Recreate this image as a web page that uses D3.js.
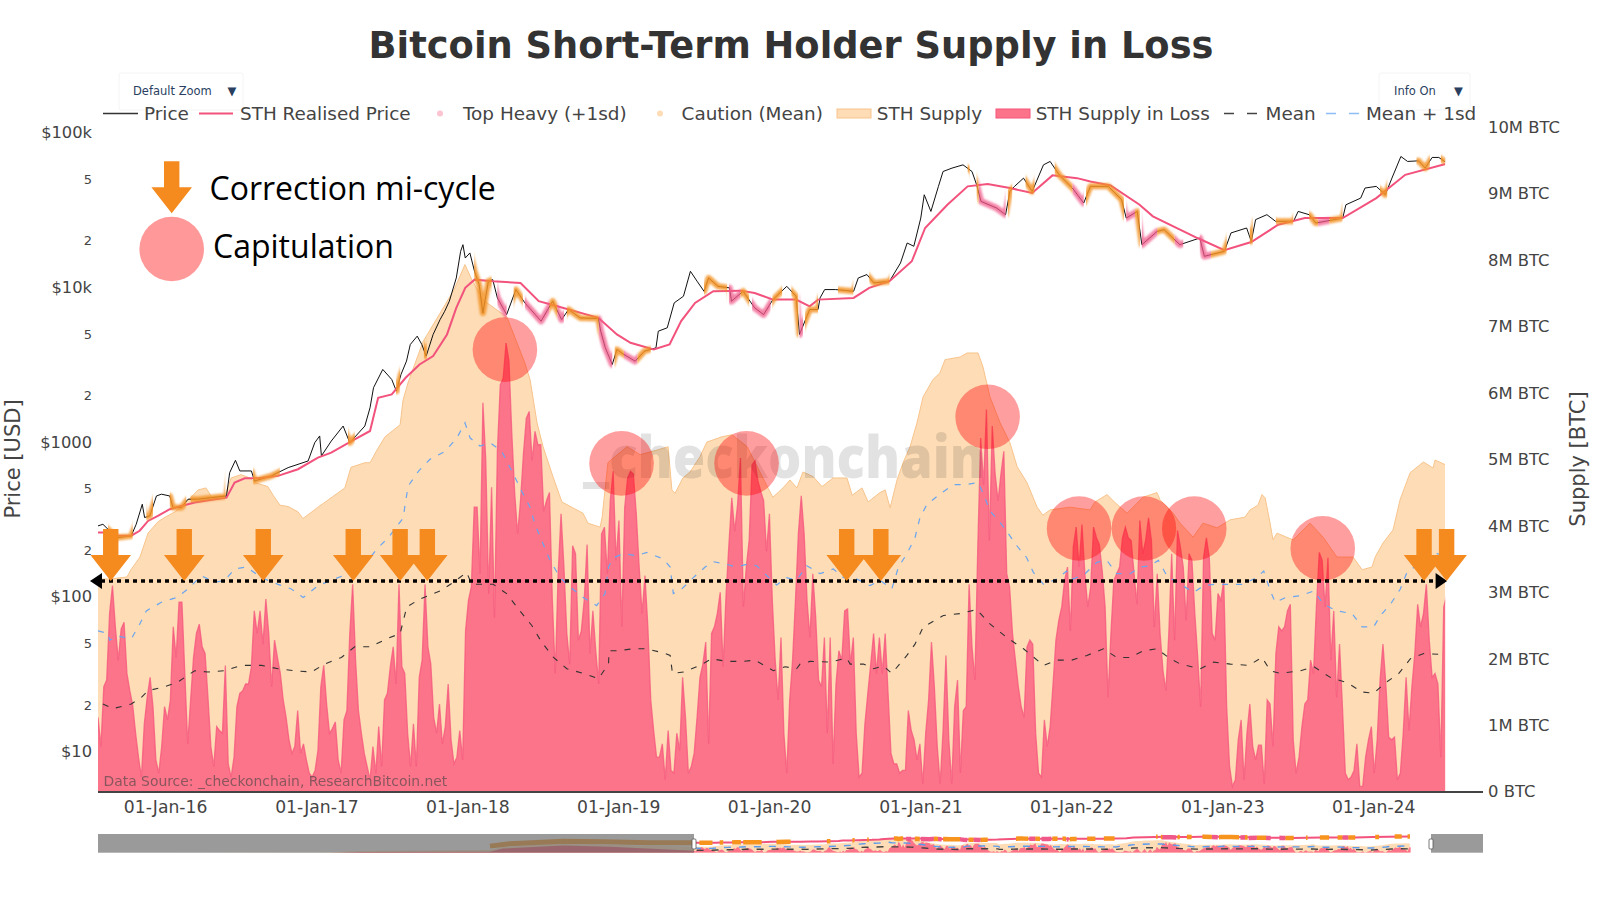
<!DOCTYPE html>
<html><head><meta charset="utf-8">
<script src="https://cdn.jsdelivr.net/npm/d3@7/dist/d3.min.js"></script>
<style>html,body{margin:0;background:#fff}svg{display:block}text{font-family:"DejaVu Sans",sans-serif}</style>
</head><body><svg id="c" width="1600" height="900"></svg>
<script>
// ---------- DATA ----------
const startDate = "2015-07-19";            // first weekly sample
const titleText = "Bitcoin Short-Term Holder Supply in Loss";
const xTickDates = ["2016-01-01","2017-01-01","2018-01-01","2019-01-01","2020-01-01","2021-01-01","2022-01-01","2023-01-01","2024-01-01"];
const priceTicks = [100000,50000,20000,10000,5000,2000,1000,500,200,100,50,20,10];
const priceTickLabels = ["$100k","5","2","$10k","5","2","$1000","5","2","$100","5","2","$10"];
const supplyTicks = [0,1,2,3,4,5,6,7,8,9,10];
const supplyTickLabels = ["0 BTC","1M BTC","2M BTC","3M BTC","4M BTC","5M BTC","6M BTC","7M BTC","8M BTC","9M BTC","10M BTC"];

// STH supply in loss, millions of BTC, one value per week
const lossValues = [
1.12,.68,1.58,1.68,2.68,3.10,2.48,1.98,2.45,2.55,1.78,1.52,1.30,.88,.52,.22,1.02,1.42,1.72,1.28,.48,.28,.68,1.28,1.08,1.38,2.48,2.02,2.85,2.85,1.78,.72,1.38,2.02,2.38,2.52,2.18,2.08,1.42,.68,.38,.98,.92,.88,1.9,.42,.22,.52,1.28,1.48,1.52,1.62,1.62,1.88,2.72,2.38,2.72,2.22,2.9,2.38,1.58,2.28,2.02,1.78,1.38,1.12,.78,.58,.68,1.22,.58,.72,.48,.28,.22,.32,.62,1.58,1.9,1.32,.88,.95,1.05,.48,.28,1.08,1.22,2.38,3.12,1.98,1.22,.88,.58,.38,
.18,.68,.28,.98,.38,1.38,1.48,1.88,2.18,1.62,3.12,1.88,1.78,.88,.38,1.02,.38,1.72,1.98,3.12,2.18,1.92,1.12,.88,1.32,.72,.98,1.62,.78,.42,.52,.92,.48,2.42,2.88,3.08,4.28,4.28,3.28,5.85,4.98,2.98,4.58,2.62,5.12,6.12,6.22,6.75,6.48,5.38,4.48,3.88,4.38,5.08,5.62,5.72,4.98,5.42,5.22,5.22,4.22,4.38,4.5,2.88,1.78,3.28,4.18,3.38,2.38,1.92,3.7,3.58,2.28,2.42,2.88,3.72,2.08,2.72,2.12,1.62,3.88,3.98,3.28,4.38,4.82,3.48,4.08,2.48,4.28,4.72,4.82,4.78,4.18,3.38,
2.68,3.25,2.48,1.38,.92,.52,.52,.72,.18,.92,.32,.28,.88,.62,1.72,1.12,.28,.38,.58,1.12,1.72,1.92,2.25,.72,2.38,2.48,2.68,3.0,1.88,2.95,3.72,4.42,3.92,4.32,5.02,2.78,3.38,3.78,4.92,4.98,4.68,4.52,4.38,3.62,4.18,2.88,1.98,1.38,2.32,.88,.28,1.38,1.98,2.88,3.88,4.45,3.88,2.88,2.32,3.28,2.62,1.68,1.58,2.32,.88,2.32,.42,1.62,2.12,1.98,2.72,2.75,1.92,2.32,.88,.22,.28,1.02,1.48,1.92,2.38,1.78,2.32,1.78,2.38,1.48,.58,.42,.42,.28,.32,.32,1.22,.92,
.78,.48,.72,.12,.88,1.38,2.25,1.58,.68,.12,.92,2.05,.78,.12,1.28,1.68,.28,1.22,1.28,3.12,2.18,1.68,3.68,5.32,4.62,5.75,3.78,5.5,4.78,4.38,4.78,5.12,3.28,3.08,2.38,1.98,1.58,1.28,1.12,2.18,2.28,2.22,.88,.28,.22,1.08,.68,.98,1.62,2.28,2.58,2.78,3.18,3.38,2.42,3.68,3.98,3.38,4.02,3.28,2.78,3.08,3.98,3.82,3.72,3.32,2.78,1.42,2.38,3.18,3.28,3.38,3.82,3.98,3.82,3.78,3.28,2.82,4.08,3.58,3.78,4.12,3.78,2.48,3.28,2.38,1.82,1.52,2.38,3.58,2.28,3.93,3.68,
3.38,2.58,3.58,3.48,2.68,2.02,1.28,3.52,3.82,3.52,2.38,2.28,2.98,2.88,3.18,1.28,.38,.08,.18,.78,1.08,.18,.88,1.32,.68,.48,.7,.7,.12,1.38,1.32,.68,2.08,2.48,2.42,2.48,2.72,2.82,.78,.28,.52,.98,1.32,1.38,1.98,1.78,2.78,3.6,3.48,2.78,3.52,1.98,2.72,1.42,2.22,1.28,.28,.18,.22,.32,.72,.08,.08,.52,.78,.98,.28,.78,1.68,2.22,1.62,.82,.78,.82,.18,.28,.88,1.72,.92,1.58,2.08,2.82,2.48,2.68,3.12,2.28,1.72,1.78,1.62,.52,2.78,2.95];

// STH supply, millions of BTC (week number, value)
const supplyWeeks = [0,4.1,10,11.4,14.5,17.3,20.7,23.2,26.6,30.1,34.6,37.3,39.4,43.9,46,49.4,52.5,54.3,58.7,60.5,62.9,65.7,69.1,70.8,73.6,76,80.5,85.3,87.4,92.3,94,96.4,99.2,104.4,105.4,107.1,112.3,118.9,123,126.8,129.2,133,141.3,147.5,149.3,151.7,153.8,157.2,160.3,164.1,167.6,169.3,173.5,174.2,176.2,178.6,182.8,187.3,193.2,197,198.3,199.4,202.1,204.6,208,210.4,215.6,219.1,224.3,231.5,233.2,236.7,239.1,241.5,243.6,247.1,250.2,254,258.8,260.6,264,266.1,270.2,272,273.7,276.1,278.2,280.6,283,285.1,288.5,290.9,292.7,297.9,300.3,304.1,305.8,308.2,311.7,315.1,317.6,321,324.5,326.5,329,335.9,342.8,344.5,348.7,351.4,355.6,361.1,365.9,367,371.5,373.9,378.4,381.8,386.7,391.2,396.3,398.1,400.8,402.2,403.3,405,406,407.4,411.2,413,418.8,423.3,428.1,433.7,436.8,440.2,441.3,444,447.5,449.9,453.4,458,461.3,462,465.5];
const supplyValues = [3.2,3.2,3.23,3.34,3.53,3.89,4.06,4.13,4.21,4.34,4.54,4.57,4.43,4.46,4.72,4.77,4.72,4.65,4.59,4.46,4.31,4.29,4.21,4.11,4.2,4.28,4.42,4.57,4.88,4.95,4.95,5.14,5.34,5.52,5.89,6.15,6.77,7.25,7.55,7.93,7.7,7.4,7.14,6.45,6.2,5.55,5.19,4.74,4.36,4.27,4.19,4.04,3.98,4.13,4.95,5.04,5.19,5.07,5.14,5.19,4.54,4.49,4.72,4.81,5.04,5.26,5.34,5.37,5.19,4.57,4.43,4.57,4.69,4.57,4.81,4.74,4.59,4.72,4.72,4.46,4.57,4.36,4.5,4.54,4.27,4.69,4.95,5.19,5.55,5.94,6.2,6.3,6.5,6.54,6.6,6.6,6.39,5.94,5.55,5.25,4.89,4.65,4.28,4.16,4.24,4.28,4.24,4.36,4.47,4.35,4.19,4.43,4.5,4.39,4.19,4.04,3.83,4.04,3.97,4.09,4.13,4.24,4.31,4.47,4.42,4.04,3.79,3.89,3.82,3.79,4.04,3.83,3.53,3.53,3.34,3.38,3.53,3.74,3.94,4.39,4.8,4.96,4.87,4.99,4.92];

// Mean of supply in loss
const meanWeeks = [1.7,5.2,11.5,15,17.3,23,27.6,33.4,38,43.8,49.5,56.5,62.2,68,73.7,78.3,84.1,88.7,94,99.8,104.4,106.7,111.3,118.2,122.8,127.4,129.1,136.6,141.2,145.8,149.9,153.3,157.4,162,167.7,172.9,176.4,176.6,179.3,185,189.6,196,197.7,198.5,202.3,208,212.1,217.3,223,227,233.4,237.4,241.4,242.6,246,253,258.7,259.9,264.5,268,271.4,274.3,279.5,282.3,285.2,292.1,297.9,303.6,308.3,314,319.8,326.7,331.3,336.5,341.7,347.4,352,356.6,361.2,365.9,370.5,374,380.9,385.5,391.3,397.6,402.2,405.1,408.6,415.5,420.1,425.8,431.6,436.8,440.8,444.3,449.5,453.5,458.1,465.6];
const meanValues = [1.32,1.25,1.32,1.42,1.52,1.58,1.65,1.82,1.8,1.82,1.9,1.9,1.85,1.82,1.8,1.92,2.02,2.18,2.18,2.3,2.38,2.78,2.9,3.02,3.15,3.3,3.12,3.12,2.98,2.72,2.5,2.25,2.02,1.85,1.78,1.7,1.92,2.12,2.12,2.15,2.15,2.08,2.05,1.78,1.8,1.9,2.0,1.96,1.96,1.98,1.82,1.88,1.85,1.92,1.96,1.95,2.01,1.92,1.92,1.85,1.89,1.78,2.05,2.22,2.48,2.65,2.68,2.74,2.52,2.32,2.15,1.9,1.98,1.98,2.05,2.15,2.02,2.02,2.12,2.15,2.0,1.92,1.85,1.95,1.92,1.9,2.02,1.82,1.78,1.82,1.88,1.72,1.64,1.5,1.48,1.62,1.78,2.0,2.08,2.06];

// Mean + 1sd of supply in loss
const sdWeeks = [0,3.5,4,6.9,11.5,14.4,16.7,21.9,27.1,31.1,35.7,40.3,43.8,47.2,51.3,56.5,62.2,66.8,70.9,76,80.6,84.7,94,96.3,100.3,105.5,106.1,107.2,110.7,114.7,119.9,124,126.8,128.6,132,135.5,139.5,143.5,146.4,149.3,151,153.3,156.2,159.7,163.1,167.7,172.3,175.2,176.4,178.1,181.6,186.2,189.6,195.4,197.7,198.8,201.7,205.7,209.8,212.6,217.3,220.7,224.2,227.6,231.1,234.5,238,241.4,244.9,249.5,254.1,257.6,262.2,266.8,270.2,274.3,276.6,279.5,282.3,284,286.4,291,295.6,299.6,304.2,305.9,308.3,311.7,314.6,317.5,320.9,323.2,326.7,331.3,334.7,337,341.1,345.1,348.6,352,356.6,360.1,363.5,366.4,369.3,374,378.6,382.1,385.5,390.1,395.3,400.5,402.8,405.1,406.8,410.3,415.5,420.1,423.5,428.1,433.3,436.8,440.8,443.1,446.6,450,452.3,457,462.7,465.6];
const sdValues = [2.42,2.38,2.28,2.34,2.3,2.52,2.72,2.85,2.92,3.05,3.25,3.15,3.18,3.35,3.38,3.22,3.12,3.05,2.92,3.1,3.18,3.25,3.52,3.65,3.82,4.12,4.32,4.6,4.82,5.0,5.12,5.32,5.55,5.32,5.2,5.25,5.12,4.78,4.52,4.28,4.02,3.78,3.48,3.22,3.08,2.92,2.8,2.98,3.38,3.52,3.58,3.55,3.6,3.5,3.38,2.98,3.05,3.22,3.38,3.46,3.42,3.38,3.42,3.4,3.25,3.11,3.22,3.18,3.4,3.28,3.35,3.22,3.2,3.1,3.18,3.05,3.38,3.58,3.82,4.12,4.32,4.48,4.62,4.62,4.65,4.48,4.22,4.05,3.88,3.7,3.52,3.3,3.12,3.2,3.32,3.2,3.28,3.45,3.48,3.28,3.28,3.38,3.4,3.48,3.25,3.12,3.0,3.1,3.12,3.12,3.12,3.22,3.32,3.02,2.85,2.92,2.95,3.02,2.82,2.72,2.68,2.48,2.48,2.65,2.82,3.05,3.3,3.45,3.58,3.55];

// Price, USD
const priceWeeks = [0,1.7,4.6,6.9,11.5,13.2,15.3,16.1,17.9,20.2,21.9,24.8,25.9,28.8,31.1,34.6,39.2,44.4,45.5,47.5,49,53,54.1,59.9,65.7,72.6,74.9,76.6,77.2,80.6,84.7,87,92.2,94,95.2,98.4,101.5,103.1,104.7,106.6,107.9,110.3,111.9,113.4,115.8,118.2,119.8,121.4,123.8,125.3,126.1,126.9,128.5,130.1,131.7,133,134.9,136.4,138,141.2,144.4,147.5,153.1,157.1,160.2,162.6,166.6,172.9,173.7,175.3,177.7,179.3,181.7,185.6,188.8,192.8,193.6,196.7,199.1,202.3,204.7,207,209.4,211,214.2,218.2,218.9,222.9,226.9,230,233.2,238,241.2,242.4,245.9,248.8,249.5,251.1,254.9,261.1,262.7,265.7,268.1,273.5,277.3,279.6,281.9,284.3,285.5,287.8,290.4,292,295.1,298.9,302,303.6,305.1,310.5,313.6,315.1,316.7,319.8,322.8,326.7,329,332.1,336.7,340.6,342.9,349.1,353.7,355.3,359.1,360.7,366,368.4,373.8,380.7,382.3,389.2,391.5,396.9,398.5,400,403.9,406.9,413.1,414.7,418.5,420.8,430.1,431.2,436.3,437.8,441.7,444.8,447.1,450.2,452.5,456.3,458.6,461,463.3,465.6];
const priceValues = [287,294,260,241,248,294,396,325,333,448,460,448,377,377,427,427,437,448,634,762,650,650,560,604,683,754,990,1094,813,1014,1268,990,1268,1665,2242,2944,2535,2133,2733,3334,4266,4831,4266,3589,4955,6180,7000,8128,11480,17060,18840,15450,16660,12680,10400,6820,10940,11200,8530,6660,9660,7925,6040,8128,6180,7180,6340,6280,5200,4060,3170,3960,3680,3330,3860,4060,5200,5470,7925,8750,12680,10940,9420,11480,10140,9910,8130,9420,7360,6660,8320,10140,8750,4955,7180,7180,8530,9660,9660,9420,11480,12080,10660,10940,14350,19320,18400,28000,39600,30900,44870,55980,58880,61800,55980,45920,35900,32500,29440,41600,44870,50700,41600,61800,65000,53300,43750,35000,44870,44870,36800,28000,30900,18840,22960,23550,18840,20800,15850,17060,22440,24150,19800,27350,29440,26670,26670,30900,29440,26000,28000,34120,37670,43750,44870,39600,50700,70000,65000,65600,58880,69000,69000,64400];

// STH realised price, USD
const realisedWeeks = [0,3.5,6.9,11.5,14.4,17.3,20.7,24.8,28.8,33.4,39.2,44.4,47.2,50.7,55.3,62.2,69.1,76,80.6,87.6,94,96.8,101.5,106.3,111.1,115.8,120.6,123.8,126.9,130.1,136.4,146,152.3,158.7,172.9,179.3,184,192,197.5,201.5,206.3,212.6,222.1,226.9,233.2,241.2,245.9,248.8,261.1,266.5,273.5,281.2,285.8,293.5,300.5,307.4,315.1,322.8,329.8,338.3,342.9,349.9,359.9,364.5,379.9,389.2,398.5,407.8,417,430.1,441.7,451.7,465.6];
const realisedValues = [260,260,248,248,267,309,333,368,386,406,423,437,547,583,583,604,667,793,853,1014,1178,1932,2032,2600,3170,3589,4955,7360,9910,11200,10940,10660,8130,7530,6340,4955,4375,3960,4266,6040,7925,9420,9510,9180,8320,8320,7530,8320,8530,9910,10940,14720,24150,34120,44870,46450,43750,40640,52840,50700,48300,45500,34120,28710,20800,17340,19590,25350,28000,28000,37670,53300,62500];

// Stretches of the price (week from, week to) flagged by the two markers
const cautionFrom = [3.5,16.7,24.8,32,53.6,86.4,103,112.6,130,143.6,156,162,178.5,186.4,209.4,222,233,239.6,244.3,255.7,266.5,300.5,303.6,314.4,320.5,330.6,341.4,358.3,366,384.6,398,407,418.5,425.5,443,455.6,464];
const cautionTo   = [12,19,30.5,44,62.8,88.7,104.4,113.6,136,146.8,158.7,173,181.7,191,217.4,225,236.4,242,248.8,261,273.5,301.2,304.3,315.9,323.6,336.7,354.5,360,372,390,399,413,421.6,430,445.5,460.2,465.6];
const heavyFrom = [138,147.5,158.7,173,181.7,218,226,242.4,304.3,336.7,355.3,360.7,372,380.7,421.6];
const heavyTo   = [141.2,156,161,177.7,186.4,222,232.4,243.6,313.6,340.6,358.3,366,375,384.6,425.5];

// Hand annotations
const arrowWeeks = [4.4,29.8,57.1,88.2,104.4,113.8,258.7,270.5,458.2,466];
const capWeeks = [140.6,180.9,224.1,307.4,339,361.4,378.8,423.2];
const capLevels = [6.65,4.94,4.94,5.64,3.96,3.96,3.96,3.66];
const thresholdLevel = 3.17;

// Part of the range slider left of the main window
const earlyDates = ["2009-01-01","2011-01-01","2011-06-01","2013-01-01","2013-03-01","2013-12-01","2014-07-01","2015-07-19"];
const earlySupply = [0,.3,.9,1.5,3,5.2,4.3,3.2];
const earlyLoss = [0,0,.4,.5,2.2,3.8,3.2,1.1];
const earlyPriceDates = ["2013-01-01","2013-04-01","2013-12-01","2014-06-01","2015-01-01","2015-07-19"];
const earlyPrices = [14,120,1000,620,280,287];

// ---------- SCALES ----------
const svg = d3.select("#c");
const DAY = 864e5;
const t0 = Date.parse(startDate+"T00:00:00Z");
const wd = w => new Date(t0 + w*7*DAY);
const lossWeeks = lossValues.map((_,i)=>i);
const zip = (a,b) => a.map((v,i)=>[v,b[i]]);

const x = d3.scaleUtc().domain([new Date(t0), new Date(t0+3350*DAY)]).range([98,1483]);
const yP = d3.scaleLog().domain([10,100000]).range([751.5,132.5]);
const yS = d3.scaleLinear().domain([0,10]).range([791.7,127]);
const X = w => x(wd(w));

const defs = svg.append("defs");
defs.append("clipPath").attr("id","plot").append("rect").attr("x",98).attr("y",120).attr("width",X(465.5)-98).attr("height",671.7);
const blur = defs.append("filter").attr("id","soft").attr("x","-5%").attr("y","-5%").attr("width","110%").attr("height","110%");
blur.append("feGaussianBlur").attr("stdDeviation",0.8);
function rangesClip(id, from, to, fx, y0, h){
  const c = defs.append("clipPath").attr("id",id);
  from.forEach((f,i)=>c.append("rect").attr("x",fx(f)).attr("y",y0).attr("width",Math.max(1.5,fx(to[i])-fx(f))).attr("height",h));
}
rangesClip("caution",cautionFrom,cautionTo,X,120,672);
rangesClip("heavy",heavyFrom,heavyTo,X,120,672);

// ---------- BUTTONS (under everything else) ----------
function btn(x0,x1,tx,ax,label){
  svg.append("rect").attr("x",x0).attr("y",73).attr("width",x1-x0).attr("height",37).attr("rx",2).attr("fill","none").attr("stroke","#f4f4f4");
  svg.append("text").attr("x",tx).attr("y",91).attr("dy","0.35em").style("font-size","11.5px").attr("fill","#2a3f5f").text(label);
  svg.append("text").attr("x",ax).attr("y",91).attr("dy","0.35em").attr("text-anchor","middle").style("font-size","11.5px").attr("fill","#2a3f5f").text("▼");
}
btn(119,243,133,232,"Default Zoom");
btn(1379,1470,1394,1458.5,"Info On");

// ---------- MAIN PLOT ----------
const area = (xf,yf) => d3.area().x(d=>xf(d[0])).y0(yf(0)).y1(d=>yf(d[1]));
const line = (xf,yf) => d3.line().x(d=>xf(d[0])).y(d=>yf(d[1]));
const plot = svg.append("g").attr("clip-path","url(#plot)");

plot.append("path").attr("d",area(X,yS)(zip(supplyWeeks,supplyValues))).attr("fill","#fddcb6");
plot.append("path").attr("d",line(X,yS)(zip(supplyWeeks,supplyValues))).attr("fill","none").attr("stroke","#f8c48c").attr("stroke-width",1);
plot.append("path").attr("d",area(X,yS)(zip(lossWeeks,lossValues))).attr("fill","#fb7489");
plot.append("path").attr("d",line(X,yS)(zip(lossWeeks,lossValues))).attr("fill","none").attr("stroke","#f5547c").attr("stroke-width",1.3).attr("stroke-opacity",.75);

plot.append("path").attr("d",line(X,yS)(zip(meanWeeks,meanValues))).attr("fill","none").attr("stroke","#333").attr("stroke-width",1.1).attr("stroke-dasharray","6 8");
plot.append("path").attr("d",line(X,yS)(zip(sdWeeks,sdValues))).attr("fill","none").attr("stroke","#6aa5f0").attr("stroke-width",1.2).attr("stroke-dasharray","6 8");

const priceD = line(X,yP)(zip(priceWeeks,priceValues));
plot.append("path").attr("d",priceD).attr("fill","none").attr("stroke","#111").attr("stroke-width",1);
plot.append("path").attr("d",line(X,yP)(zip(realisedWeeks,realisedValues))).attr("fill","none").attr("stroke","#f2527c").attr("stroke-width",2);
svg.append("g").attr("clip-path","url(#heavy)").append("path").attr("d",priceD).attr("fill","none").attr("stroke","#f0588a").attr("stroke-width",6.5).attr("stroke-opacity",.75).attr("stroke-linejoin","round").attr("filter","url(#soft)");
svg.append("g").attr("clip-path","url(#caution)").append("path").attr("d",priceD).attr("fill","none").attr("stroke","#f39326").attr("stroke-width",6).attr("stroke-opacity",.85).attr("stroke-linejoin","round").attr("filter","url(#soft)");

// watermark
svg.append("text").attr("x",583).attr("y",478).attr("textLength",402).attr("lengthAdjust","spacingAndGlyphs")
 .style("font-family","'Open Sans'").style("font-weight",800).style("font-size","58px").attr("fill","#000").attr("opacity",.11).text("_checkonchain");

// data source
svg.append("text").attr("x",103.5).attr("y",786).style("font-size","13.9px").attr("fill","#444").attr("opacity",.62).text("Data Source: _checkonchain, ResearchBitcoin.net");

// baseline
svg.append("line").attr("x1",98).attr("x2",1483).attr("y1",792).attr("y2",792).attr("stroke","#444").attr("stroke-width",1.8);

// ---------- AXES ----------
const axX = svg.append("g").attr("transform","translate(0,800.5)")
 .call(d3.axisBottom(x).tickValues(xTickDates.map(d=>new Date(d+"T00:00:00Z"))).tickFormat(d3.utcFormat("%d-%b-%y")).tickSize(0));
axX.select(".domain").remove();
axX.selectAll("text").attr("dy","0.71em").attr("y",0).attr("dx",-1.5).style("font-size","17.2px").style("font-family","'DejaVu Sans'").attr("fill","#444");

const axL = svg.append("g").attr("transform","translate(92,0)")
 .call(d3.axisLeft(yP).tickValues(priceTicks).tickFormat((d,i)=>priceTickLabels[i]).tickSize(0).tickPadding(0));
axL.select(".domain").remove();
axL.selectAll("text").style("font-family","'DejaVu Sans'").style("font-size",(d,i)=>priceTickLabels[i].length>1?"16.3px":"13px").attr("fill","#444");

const axR = svg.append("g").attr("transform","translate(1488,0)")
 .call(d3.axisRight(yS).tickValues(supplyTicks).tickFormat((d,i)=>supplyTickLabels[i]).tickSize(0).tickPadding(0));
axR.select(".domain").remove();
axR.selectAll("text").style("font-family","'DejaVu Sans'").style("font-size","16.4px").attr("fill","#444");

svg.append("text").attr("transform","translate(20,459) rotate(-90)").attr("text-anchor","middle").style("font-size","21px").attr("fill","#444").text("Price [USD]");
svg.append("text").attr("transform","translate(1586,459) rotate(-90)").attr("text-anchor","middle").attr("dy",-1).style("font-size","21px").attr("fill","#444").text("Supply [BTC]");

svg.append("text").attr("x",791).attr("y",58).attr("text-anchor","middle").style("font-weight",700).style("font-size","36.8px").attr("fill","#333").text(titleText);

// ---------- LEGEND ----------
const LY = 113.5, legend = svg.append("g");
const ltext = (xp,t)=>legend.append("text").attr("x",xp).attr("y",LY).attr("dy","0.35em").style("font-size","18.4px").attr("fill","#444").text(t);
const lline = (a,b,col,w,dash)=>legend.append("line").attr("x1",a).attr("x2",b).attr("y1",LY).attr("y2",LY).attr("stroke",col).attr("stroke-width",w).attr("stroke-dasharray",dash||null);
lline(103,138,"#333",1.3); ltext(144,"Price");
lline(199,233,"#f2527c",2); ltext(240,"STH Realised Price");
legend.append("circle").attr("cx",440).attr("cy",LY).attr("r",3).attr("fill","#fcc3d0"); ltext(463,"Top Heavy (+1sd)");
legend.append("circle").attr("cx",660).attr("cy",LY).attr("r",3).attr("fill","#fddcb6"); ltext(681.6,"Caution (Mean)");
legend.append("rect").attr("x",837).attr("y",LY-4.5).attr("width",34).attr("height",9).attr("fill","#fddcb6").attr("stroke","#f8c48c");
ltext(876.8,"STH Supply");
legend.append("rect").attr("x",996).attr("y",LY-4.5).attr("width",34).attr("height",9).attr("fill","#fb7489").attr("stroke","#f5547c");
ltext(1035.7,"STH Supply in Loss");
lline(1224,1258,"#444",1.3,"10 13"); ltext(1265.6,"Mean");
lline(1326,1359,"#8fbdf5",1.3,"10 13"); ltext(1366,"Mean + 1sd");

// ---------- ANNOTATIONS ----------
const ARROW = "#f58a1f";
const arrowPath = (cx,tip)=>{const p=d3.path();p.moveTo(cx-7.7,tip-52);p.lineTo(cx+7.7,tip-52);p.lineTo(cx+7.7,tip-26);p.lineTo(cx+20.3,tip-26);p.lineTo(cx,tip);p.lineTo(cx-20.3,tip-26);p.lineTo(cx-7.7,tip-26);p.closePath();return p.toString();};

const ann = svg.append("g");
ann.selectAll("circle.cap").data(capWeeks).join("circle").attr("class","cap")
 .attr("cx",d=>X(d)).attr("cy",(d,i)=>yS(capLevels[i])).attr("r",32.3).attr("fill","#ff0000").attr("fill-opacity",.38);

const ty = yS(thresholdLevel);
ann.append("line").attr("x1",X(0)+3).attr("x2",X(466)-8).attr("y1",ty).attr("y2",ty).attr("stroke","#000").attr("stroke-width",3.6).attr("stroke-dasharray","4 4");
ann.append("path").attr("d",`M${X(0)-8},${ty}L${X(0)+4},${ty-8}L${X(0)+4},${ty+8}Z`).attr("fill","#000");
ann.append("path").attr("d",`M${X(466)+0.5},${ty}L${X(466)-11},${ty-8}L${X(466)-11},${ty+8}Z`).attr("fill","#000");

ann.selectAll("path.arr").data(arrowWeeks).join("path").attr("class","arr").attr("d",d=>arrowPath(X(d),ty)).attr("fill",ARROW);

// hand legend
ann.append("path").attr("d",arrowPath(171.7,213.3)).attr("fill",ARROW);
ann.append("circle").attr("cx",171.7).attr("cy",249).attr("r",32.3).attr("fill","#ff0000").attr("fill-opacity",.4);
ann.append("text").attr("x",209.5).attr("y",199.5).style("font-family","'Open Sans'").style("font-size","32px").attr("fill","#000").text("Correction mi-cycle");
ann.append("text").attr("x",213).attr("y",257.7).style("font-family","'Open Sans'").style("font-size","32px").attr("fill","#000").text("Capitulation");

// ---------- RANGE SLIDER ----------
const mTop = 834, mBot = 852.7;
const xm = d3.scaleUtc().domain([new Date(t0), wd(465.6)]).range([694,1410]);
const Xm = w => xm(wd(w));
const ymS = d3.scaleLinear().domain([0,10]).range([mBot,mTop]);
const ymP = d3.scaleLog().domain([10,100000]).range([846.5,836]);
rangesClip("cautionM",cautionFrom,cautionTo,Xm,mTop,mBot-mTop);
rangesClip("heavyM",heavyFrom,heavyTo,Xm,mTop,mBot-mTop);
defs.append("clipPath").attr("id","mini").append("rect").attr("x",98).attr("y",mTop).attr("width",1385).attr("height",mBot-mTop);
const mini = svg.append("g").attr("clip-path","url(#mini)");
const D = d=>new Date(d+"T00:00:00Z");
const xmD = d=>xm(D(d));
mini.append("path").attr("d",area(xmD,ymS)(zip(earlyDates,earlySupply))).attr("fill","#fddcb6");
mini.append("path").attr("d",area(xmD,ymS)(zip(earlyDates,earlyLoss))).attr("fill","#fb5069");
mini.append("path").attr("d",d3.line().x(d=>xmD(d[0])).y(d=>ymP(d[1]))(zip(earlyPriceDates,earlyPrices))).attr("fill","none").attr("stroke","#f7941e").attr("stroke-width",5);
mini.append("path").attr("d",area(Xm,ymS)(zip(supplyWeeks,supplyValues))).attr("fill","#fddcb6");
mini.append("path").attr("d",area(Xm,ymS)(zip(lossWeeks,lossValues))).attr("fill","#fb7489");
mini.append("path").attr("d",line(Xm,ymS)(zip(meanWeeks,meanValues))).attr("fill","none").attr("stroke","#444").attr("stroke-width",1.4).attr("stroke-dasharray","7 8");
mini.append("path").attr("d",line(Xm,ymS)(zip(sdWeeks,sdValues))).attr("fill","none").attr("stroke","#5b9bec").attr("stroke-width",1.4).attr("stroke-dasharray","7 8");
const priceM = line(Xm,ymP)(zip(priceWeeks,priceValues));
mini.append("path").attr("d",line(Xm,ymP)(zip(realisedWeeks,realisedValues))).attr("fill","none").attr("stroke","#f2527c").attr("stroke-width",2);
mini.append("g").attr("clip-path","url(#heavyM)").append("path").attr("d",priceM).attr("fill","none").attr("stroke","#f0588a").attr("stroke-width",4.5);
mini.append("g").attr("clip-path","url(#cautionM)").append("path").attr("d",priceM).attr("fill","none").attr("stroke","#f7941e").attr("stroke-width",4.5);
// masks and handles
svg.append("rect").attr("x",98).attr("y",mTop).attr("width",694-98).attr("height",mBot-mTop).attr("fill","#6f6f6f").attr("fill-opacity",.7);
svg.append("rect").attr("x",1431).attr("y",mTop).attr("width",1483-1431).attr("height",mBot-mTop).attr("fill","#6f6f6f").attr("fill-opacity",.7);
[694,1431].forEach(h=>svg.append("rect").attr("x",h-2).attr("y",839).attr("width",4).attr("height",10).attr("rx",1).attr("fill","#fff").attr("stroke","#555").attr("stroke-width",.8));
</script></body></html>
